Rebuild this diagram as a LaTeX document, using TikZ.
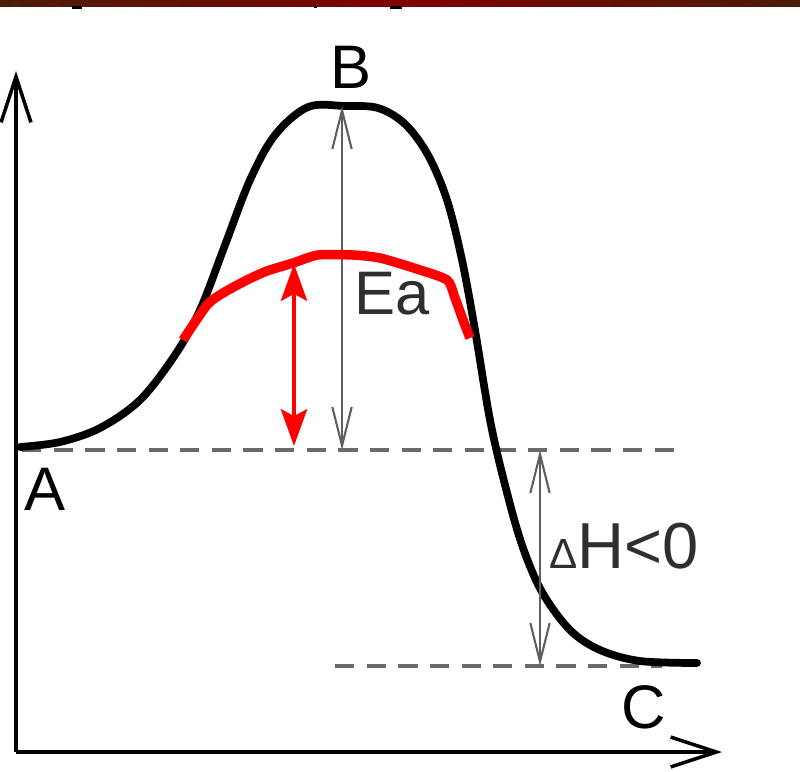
\documentclass[tikz,border=0pt]{standalone}
\usepackage{fontspec}
\setmainfont{Liberation Sans}
\usetikzlibrary{arrows.meta}
\definecolor{gline}{HTML}{5E5E5E}
\definecolor{dline}{HTML}{6A6A6A}
\definecolor{redc}{HTML}{FF0000}
\definecolor{bandL}{HTML}{4A1E08}
\definecolor{bandM}{HTML}{800000}
\begin{document}
\begin{tikzpicture}[x=0.02cm,y=-0.02cm,
  axis/.style={line width=2pt,-{Straight Barb[length=26pt,width=17pt,line width=2pt]}},
  curve/.style={line width=4.4pt,line cap=round,line join=round},
  redcurve/.style={line width=5.4pt,redc,line join=round},
  redarrow/.style={line width=2.2pt,redc,{Stealth[length=21pt,width=15pt,inset=4pt]}-{Stealth[length=21pt,width=15pt,inset=4pt]}},
  garrow/.style={line width=1.2pt,gline,{Straight Barb[length=22pt,width=11pt,line width=1.2pt]}-{Straight Barb[length=22pt,width=11pt,line width=1.2pt]}},
  dashline/.style={line width=1.8pt,dline,dash pattern=on 11pt off 7pt},
  lbl/.style={font=\fontsize{35}{40}\selectfont,inner sep=0pt}]
\useasboundingbox (0,0) rectangle (800,771);
\fill[white] (0,0) rectangle (800,771);
% top band
\shade[left color=bandL,right color=bandL,middle color=bandM] (0,0) rectangle (800,6);
\fill (72,6) rectangle (82,9);
\fill (314,6) rectangle (317,8);
\fill (390,6) rectangle (402,9);
% axes
\coordinate (o) at (16,752);
\coordinate (ytip) at (16,71);
\coordinate (xtip) at (722,752);
\draw[axis] (o) -- (ytip);
\draw[axis] (o) -- (xtip);
% dashed levels
\coordinate (dA1) at (22,450);
\coordinate (dA2) at (680,450);
\coordinate (dC1) at (335,666);
\coordinate (dC2) at (662,666);
\draw[dashline] (dA1) -- (dA2);
\draw[dashline] (dC1) -- (dC2);
% energy curve
\draw[curve] plot[smooth,tension=0.55] coordinates {(20,447) (60,442) (100,428) (140,400) (175,355) (200,310) (225,245) (250,180) (275,135) (308,107) (345,106) (378,108) (405,124) (428,155) (447,200) (462,260) (475,330) (490,420) (505,485) (522,545) (542,592) (570,630) (600,650) (640,661) (697,663)};
% Ea arrow
\coordinate (eaT) at (342,106);
\coordinate (eaB) at (342,450);
\draw[garrow] (eaB) -- (eaT);
% dH arrow
\coordinate (dhT) at (540,450);
\coordinate (dhB) at (540,666);
\draw[garrow] (dhT) -- (dhB);
% red curve
\draw[redcurve] plot[smooth,tension=0.4] coordinates {(183,340) (207,305) (223,293) (247,280) (267,271) (293,263) (318,255) (353,255) (380,258) (417,269) (447,280) (455,298) (463,320) (470,338)};
% red arrow
\coordinate (rT) at (294,264);
\coordinate (rB) at (294,446);
\draw[redarrow] (rB) -- (rT);
% labels
\node[lbl] (A) at (45,489) {A};
\node[lbl] (B) at (351,67) {B};
\node[lbl] (C) at (644,707) {C};
\node[lbl,gline!50!black] (Ea) at (392,294) {Ea};
\node[lbl,gline!50!black,anchor=west,font=\fontsize{37}{40}\selectfont] (dH) at (549,546) {{\fontsize{24}{26}\selectfont Δ}H<0};
\end{tikzpicture}
\end{document}
